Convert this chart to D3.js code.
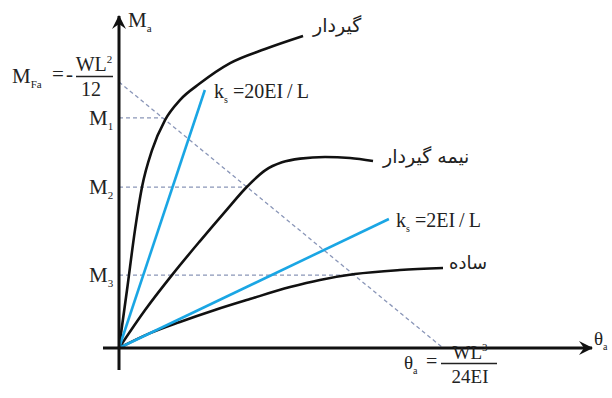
<!DOCTYPE html>
<html>
<head>
<meta charset="utf-8">
<script src="https://d3js.org/d3.v7.min.js"></script>
<style>
    body { margin: 0; background: white; }
    text { font-family: "Liberation Serif", "Times New Roman", serif; fill: #222; }
    .fa { font-family: "DejaVu Sans", sans-serif; }
</style>
</head>
<body>
<script>
    // normalised units: theta / (WL^3/24EI) and M / MFa
    var gerdar = [[0,0],[0.0247,0.218],[0.0494,0.444],[0.071,0.605],[0.102,0.744],[0.142,0.857],
        [0.188,0.932],[0.25,0.995],[0.343,1.071],[0.451,1.124],[0.568,1.173]];
    var nimeGerdar = [[0,0],[0.08,0.142],[0.164,0.275],[0.25,0.402],[0.327,0.512],[0.398,0.61],
        [0.451,0.668],[0.503,0.698],[0.559,0.712],[0.636,0.718],[0.713,0.714],[0.784,0.703]];
    var sadeh = [[0,0],[0.096,0.056],[0.188,0.098],[0.296,0.143],[0.404,0.184],[0.528,0.229],
        [0.62,0.256],[0.728,0.278],[0.867,0.293],[1.0,0.301]];
    var springLines = [
        { label: "20EI\u2009/\u2009L", end: [0.265, 0.97] },
        { label: "2EI\u2009/\u2009L", end: [0.833, 0.485] }
    ];
    var mLevels = [
        { name: "1", m: 0.865 },
        { name: "2", m: 0.605 },
        { name: "3", m: 0.274 }
    ];

    var svg = d3.select("body").append("svg")
        .attr("width", 612).attr("height", 398);

    var x = d3.scaleLinear().domain([0, 1]).range([119, 443]);
    var y = d3.scaleLinear().domain([0, 1]).range([348, 82]);

    // arrow marker
    svg.append("defs").append("marker")
        .attr("id", "arr").attr("viewBox", "-14 -8 16 16")
        .attr("refX", 0).attr("refY", 0)
        .attr("markerWidth", 16).attr("markerHeight", 16)
        .attr("markerUnits", "userSpaceOnUse")
        .attr("orient", "auto")
        .append("path").attr("d", "M1,0 L-13,-7 L-8,0 L-13,7 Z").attr("fill", "#111");

    var dashCol = "#8a96b8";

    // diagonal (beam line) M = 1 - theta
    svg.append("line")
        .attr("x1", x(0)).attr("y1", y(1)).attr("x2", x(1)).attr("y2", y(0))
        .attr("stroke", dashCol).attr("stroke-width", 1.3).attr("stroke-dasharray", "4,3");

    // horizontal dashed to the beam line
    svg.append("g").selectAll("line").data(mLevels).enter().append("line")
        .attr("x1", x(0)).attr("x2", function (d) { return x(1 - d.m); })
        .attr("y1", function (d) { return y(d.m); }).attr("y2", function (d) { return y(d.m); })
        .attr("stroke", dashCol).attr("stroke-width", 1.3).attr("stroke-dasharray", "4,3");

    var line = d3.line()
        .x(function (d) { return x(d[0]); })
        .y(function (d) { return y(d[1]); })
        .curve(d3.curveMonotoneX);

    svg.append("g").selectAll("path").data([gerdar, nimeGerdar, sadeh]).enter().append("path")
        .attr("d", line).attr("fill", "none").attr("stroke", "#111").attr("stroke-width", 2.6);

    svg.append("g").selectAll("line").data(springLines).enter().append("line")
        .attr("x1", x(0)).attr("y1", y(0))
        .attr("x2", function (d) { return x(d.end[0]); })
        .attr("y2", function (d) { return y(d.end[1]); })
        .attr("stroke", "#1aa6e4").attr("stroke-width", 2.6);

    // axes
    svg.append("line").attr("x1", x(0)).attr("x2", x(0))
        .attr("y1", 370).attr("y2", 16)
        .attr("stroke", "#111").attr("stroke-width", 3).attr("marker-end", "url(#arr)");
    svg.append("line").attr("x1", 103).attr("x2", 592)
        .attr("y1", y(0)).attr("y2", y(0))
        .attr("stroke", "#111").attr("stroke-width", 3).attr("marker-end", "url(#arr)");

    // helper: main text with subscript
    function subText(px, py, main, sub, size) {
        var t = svg.append("text").attr("x", px).attr("y", py).style("font-size", size + "px");
        t.append("tspan").text(main);
        t.append("tspan").text(sub).style("font-size", Math.round(size * 0.5) + "px").attr("dy", size * 0.25);
        return t;
    }

    subText(128, 27, "M", "a", 21);
    subText(594, 345, "θ", "a", 19);

    mLevels.forEach(function (d) {
        subText(89, y(d.m) + 7, "M", d.name, 21);
    });

    // MFa = - WL^2/12
    subText(12, 83, "M", "Fa", 21);
    svg.append("text").attr("x", 52).attr("y", 81).style("font-size", "21px").text("=");
    svg.append("text").attr("x", 66).attr("y", 81).style("font-size", "21px").text("-");
    svg.append("line").attr("x1", 76).attr("x2", 113).attr("y1", 76.5).attr("y2", 76.5)
        .attr("stroke", "#222").attr("stroke-width", 1.4);
    var wl2 = svg.append("text").attr("x", 94).attr("y", 71).attr("text-anchor", "middle").style("font-size", "20px");
    wl2.append("tspan").text("WL");
    wl2.append("tspan").text("2").style("font-size", "11px").attr("dy", -8);
    svg.append("text").attr("x", 91).attr("y", 96).attr("text-anchor", "middle").style("font-size", "20px").text("12");

    // theta_a = WL^3/24EI
    subText(404, 369, "θ", "a", 19);
    svg.append("text").attr("x", 426).attr("y", 368).style("font-size", "20px").text("=");
    svg.append("line").attr("x1", 441).attr("x2", 497).attr("y1", 363.5).attr("y2", 363.5)
        .attr("stroke", "#222").attr("stroke-width", 1.4);
    var wl3 = svg.append("text").attr("x", 470).attr("y", 359).attr("text-anchor", "middle").style("font-size", "19px");
    wl3.append("tspan").text("WL");
    wl3.append("tspan").text("3").style("font-size", "11px").attr("dy", -8);
    svg.append("text").attr("x", 470).attr("y", 383).attr("text-anchor", "middle").style("font-size", "19px").text("24EI");

    // spring labels
    var ksPos = [[214, 98], [396, 227]];
    springLines.forEach(function (d, i) {
        var t = svg.append("text").attr("x", ksPos[i][0]).attr("y", ksPos[i][1]).style("font-size", "20px");
        t.append("tspan").text("k");
        t.append("tspan").text("s").style("font-size", "10px").attr("dy", 5);
        t.append("tspan").text(" =" + d.label).attr("dy", -5);
    });

    // curve labels (Persian)
    var curveLabels = [
        { t: "گیردار", x: 313, y: 32, s: 19 },
        { t: "نیمه گیردار", x: 383, y: 163, s: 19 },
        { t: "ساده", x: 449, y: 269, s: 18 }
    ];
    svg.append("g").selectAll("text").data(curveLabels).enter().append("text")
        .attr("class", "fa")
        .attr("x", function (d) { return d.x; }).attr("y", function (d) { return d.y; })
        .style("font-size", function (d) { return d.s + "px"; })
        .text(function (d) { return d.t; });
</script>
</body>
</html>
